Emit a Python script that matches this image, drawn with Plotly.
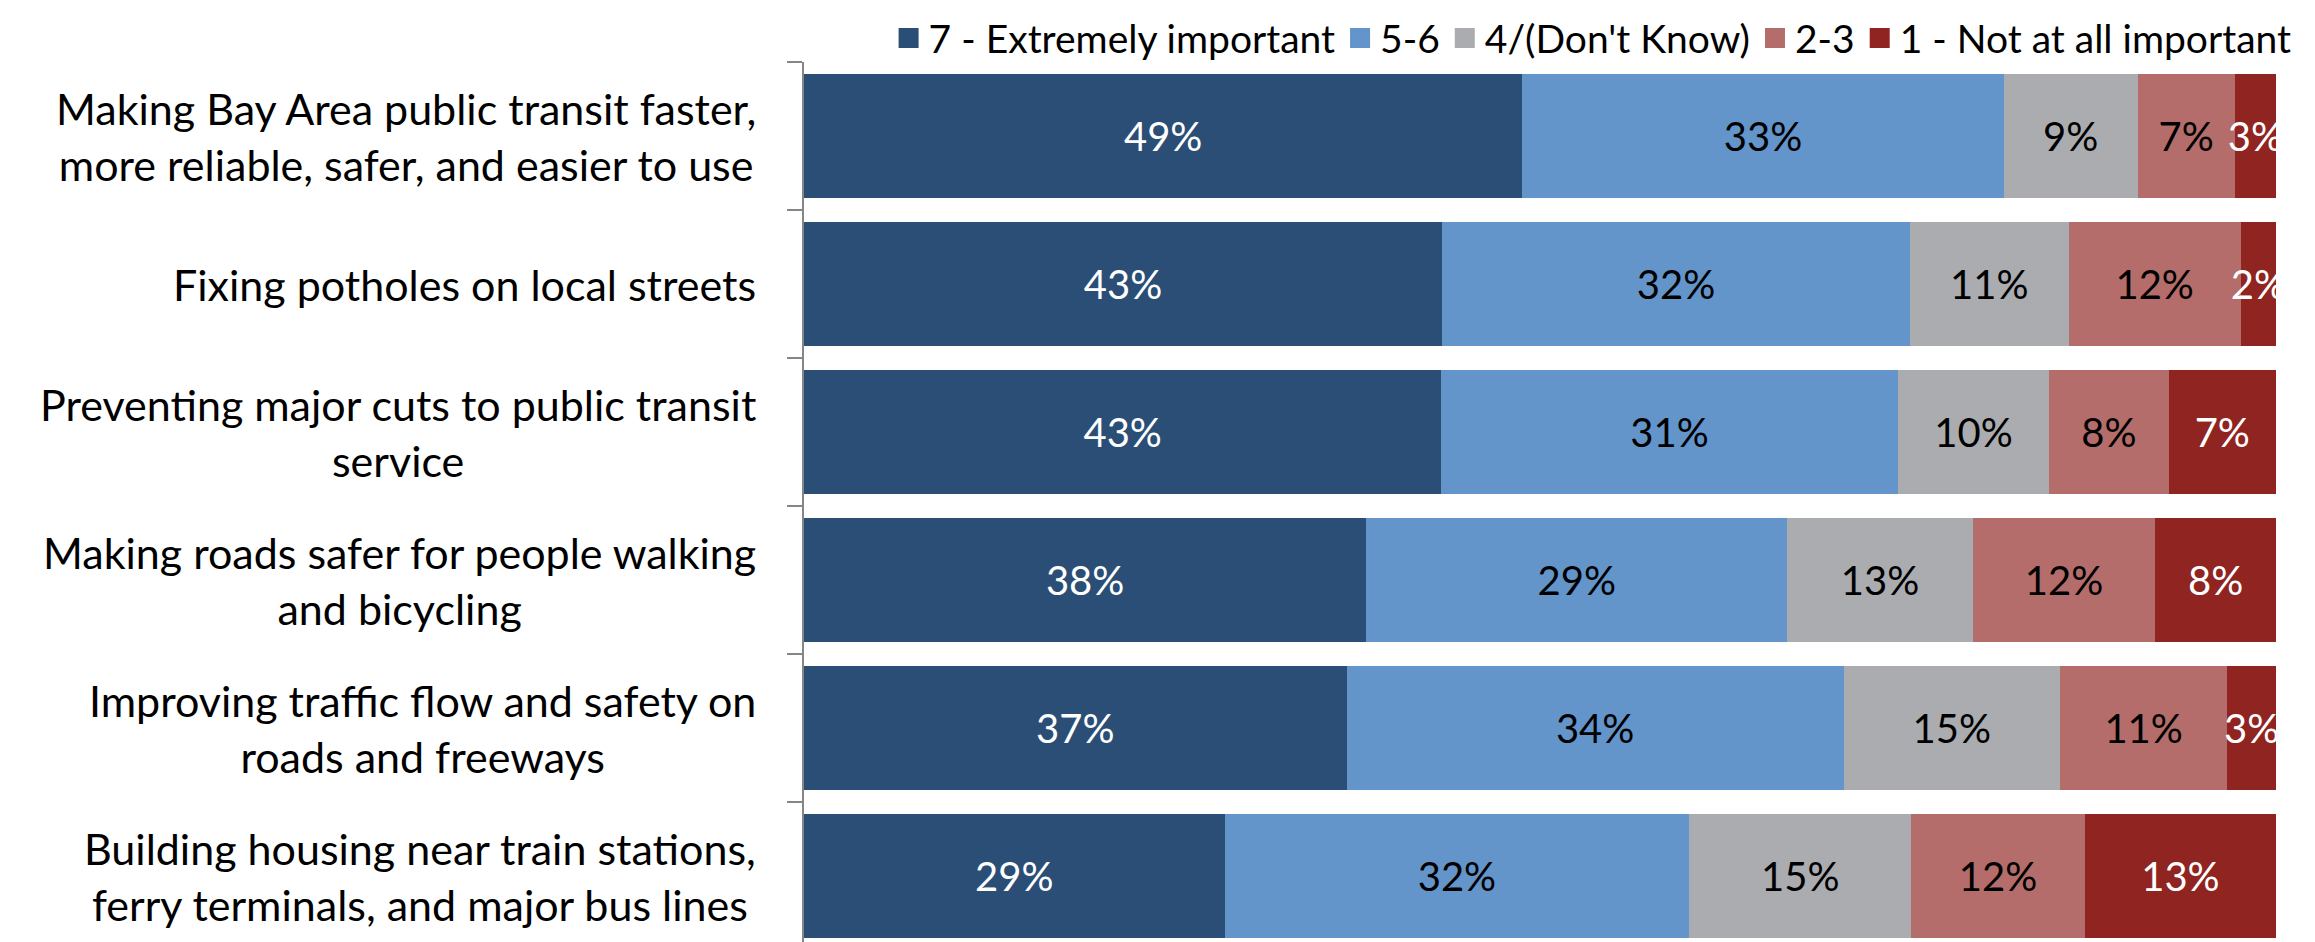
import plotly.graph_objects as go

categories = [
    "Making Bay Area public transit faster,<br>more reliable, safer, and easier to use",
    "Fixing potholes on local streets",
    "Preventing major cuts to public transit<br>service",
    "Making roads safer for people walking<br>and bicycling",
    "Improving traffic flow and safety on<br>roads and freeways",
    "Building housing near train stations,<br>ferry terminals, and major bus lines",
]
series_names = ["7 - Extremely important", "5-6", "4/(Don't Know)", "2-3", "1 - Not at all important"]
# shares (%); labels show the rounded value
v7 = [48.8, 43.4, 43.3, 38.2, 36.9, 28.6]
v56 = [32.7, 31.8, 31.0, 28.6, 33.8, 31.6]
v4 = [9.1, 10.8, 10.3, 12.6, 14.7, 15.1]
v23 = [6.6, 11.7, 8.1, 12.4, 11.4, 11.8]
v1 = [2.8, 2.4, 7.3, 8.2, 3.3, 13.0]
series_values = [v7, v56, v4, v23, v1]
colors = ["#2A4E76", "#6394CA", "#ABACB0", "#B46D6A", "#8F2421"]
text_colors = ["white", "black", "black", "black", "white"]

FONT = "Lato"

fig = go.Figure()
for name, vals, col, tcol in zip(series_names, series_values, colors, text_colors):
    fig.add_trace(go.Bar(
        y=categories, x=vals, name=name, orientation="h",
        marker=dict(color=col, line=dict(width=0)),
        text=[f"{int(v + 0.5)}%" for v in vals], textposition="inside",
        insidetextanchor="middle", textangle=0, constraintext="none",
        textfont=dict(family=FONT, size=40, color=tcol),
        cliponaxis=False, showlegend=False, hoverinfo="skip",
    ))
# legend entries
for name, col in zip(series_names, colors):
    fig.add_trace(go.Scatter(
        x=[None], y=[None], mode="markers", name=name,
        marker=dict(symbol="square", size=16, color=col, line=dict(color=col, width=4)),
        showlegend=True,
    ))

annotations = []
for c in categories:
    annotations.append(dict(
        x=0, xref="paper", y=c, yref="y", xanchor="right", yanchor="middle",
        align="center", xshift=-46, showarrow=False, text=c,
        font=dict(family=FONT, size=43, color="black"),
    ))

fig.update_layout(
    width=2315, height=942,
    margin=dict(l=796, r=47, t=54, b=0, autoexpand=False),
    barmode="stack", barnorm="percent", bargap=0.16,
    plot_bgcolor="white", paper_bgcolor="white",
    font=dict(family=FONT, color="black"),
    showlegend=True,
    legend=dict(orientation="h", x=1.014, xanchor="right", y=1.063, yanchor="top",
                font=dict(family=FONT, size=39, color="black"),
                itemwidth=30, traceorder="normal", bgcolor="rgba(0,0,0,0)"),
    xaxis=dict(range=[0, 100.0001], visible=False, fixedrange=True),
    yaxis=dict(type="category", autorange="reversed", showline=True, linecolor="#868686",
               linewidth=2, ticks="outside", ticklen=15, tickcolor="#868686", tickwidth=2,
               tickson="boundaries", showticklabels=False, showgrid=False, zeroline=False),
    annotations=annotations,
)

fig.write_html("out.html")
